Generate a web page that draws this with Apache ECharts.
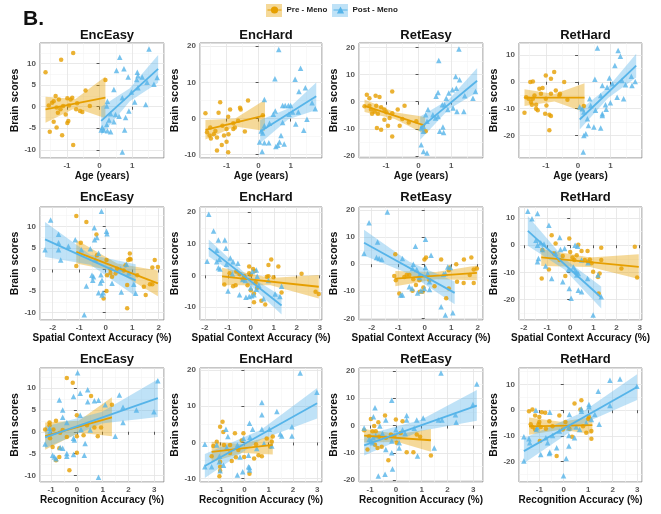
<!DOCTYPE html>
<html>
<head>
<meta charset="utf-8">
<script src="https://cdn.jsdelivr.net/npm/echarts@6/dist/echarts.min.js"></script>
<style>
  html, body { margin: 0; background: #fff; }
  #chart { width: 661px; height: 514px; }
</style>
</head>
<body>
<div id="chart"></div>
<script>
const conditions = ['EncEasy', 'EncHard', 'RetEasy', 'RetHard'];
const predictors = ['Age (years)', 'Spatial Context Accuracy (%)', 'Recognition Accuracy (%)'];
const groups = ['Pre - Meno', 'Post - Meno'];

// ---- row 1 : age ----
const ageEncEasyPre = [[-1.66,8.0],[-0.81,12.5],[-1.18,10.9],[-1.53,-5.8],[-1.15,-6.6],[-0.81,-8.9],[-1.41,-3.5],[-1.32,-4.8],[-0.99,-3.8],[-0.96,-3.3],[-1.04,-1.8],[-1.56,0.3],[-1.46,0.9],[-1.41,1.3],[-1.35,2.5],[-1.25,1.7],[-1.2,-0.6],[-1.28,-1.4],[-1.12,0.2],[-0.99,2.0],[-0.89,1.7],[-0.84,2.1],[-0.69,0.8],[-0.6,-1.0],[-0.53,-1.2],[-0.72,-0.6],[-0.43,3.8],[-0.3,0.2],[0.18,6.2],[-0.94,0.3],[-1.32,-0.2]];
const ageEncEasyPost = [[1.52,13.4],[0.62,11.5],[0.52,8.4],[0.75,8.8],[0.88,6.9],[1.16,8.0],[1.18,7.2],[1.14,6.3],[1.46,5.7],[1.31,6.9],[1.77,6.8],[1.67,5.2],[0.44,4.0],[0.98,3.4],[1.18,4.4],[0.7,2.1],[1.08,1.1],[1.42,0.5],[0.24,1.3],[0.22,0.2],[0.34,-1.6],[0.49,-1.8],[0.6,-2.2],[0.8,-2.5],[0.29,-3.1],[0.22,-4.1],[0.08,-4.8],[0.05,-5.4],[0.13,-5.4],[0.24,-5.6],[0.34,-5.8],[0.77,-5.4],[0.7,-10.5],[0.44,-3.5],[0.9,-1.0]];
const ageEncHardPre = [[-1.66,1.5],[-1.61,-3.8],[-1.53,-4.7],[-1.49,-5.5],[-1.4,-4.3],[-1.35,-3.4],[-1.3,-5.2],[-1.2,4.5],[-1.25,1.6],[-1.3,-8.8],[-1.15,-7.3],[-1.08,-4.7],[-1.0,-2.9],[-0.95,0.5],[-0.89,2.5],[-1.0,-6.4],[-0.95,-9.3],[-0.94,-4.3],[-0.79,-2.9],[-0.74,-2.5],[-0.58,3.0],[-0.56,2.5],[-0.64,-0.6],[-0.43,-3.6],[-0.33,5.0],[0.13,0.9],[-1.13,-2.0],[-1.51,-2.5],[-0.79,-1.3]];
const ageEncHardPost = [[0.63,19.1],[0.51,11.0],[1.31,13.9],[1.14,10.9],[1.46,8.5],[1.26,7.5],[0.18,5.3],[0.75,3.6],[0.83,3.6],[0.93,3.6],[1.0,3.6],[0.52,2.1],[0.46,1.2],[0.95,1.2],[1.06,1.8],[1.24,1.8],[1.67,4.4],[1.77,2.7],[1.51,-0.2],[0.75,-1.1],[1.16,-1.5],[0.34,-1.3],[0.18,-2.0],[0.08,-3.4],[0.13,-4.0],[0.03,-6.5],[0.18,-6.7],[0.32,-6.7],[0.11,-9.1],[0.54,-7.7],[0.65,-6.5],[0.7,-4.7],[0.8,-7.0],[1.41,-3.2],[0.6,-7.4]];
const ageRetEasyPre = [[-1.66,-1.7],[-1.59,2.6],[-1.51,1.3],[-1.32,2.2],[-1.2,1.7],[-1.46,-2.9],[-1.43,-4.4],[-1.35,-3.6],[-1.25,-4.4],[-1.3,-1.5],[-1.15,-2.0],[-1.05,-2.9],[-0.99,-3.9],[-1.28,-9.7],[-1.15,-10.3],[-0.94,-8.8],[-1.05,-6.6],[-0.81,-4.2],[-0.81,3.8],[-0.81,-12.8],[-0.64,-2.9],[-0.58,-8.8],[-0.5,-6.4],[-0.43,-1.5],[-0.3,-7.6],[-0.07,-7.2],[0.22,-10.9],[-0.89,-6.0],[-1.51,-1.5]];
const ageRetEasyPost = [[1.24,19.4],[0.62,15.2],[1.14,9.3],[1.26,8.1],[1.75,3.8],[1.67,1.3],[1.42,2.2],[0.85,1.3],[0.93,3.2],[0.54,2.0],[0.6,3.4],[1.04,4.4],[1.16,5.0],[0.8,-1.1],[0.9,-2.9],[1.06,-2.3],[1.18,-3.6],[1.39,-3.6],[0.73,-1.1],[0.29,-2.9],[0.44,-4.8],[0.22,-4.8],[0.26,-7.2],[0.52,-6.0],[0.6,-5.4],[0.75,-9.3],[0.65,-10.9],[0.08,-9.7],[0.15,-9.1],[0.08,-15.8],[0.15,-18.3],[0.26,-18.9],[0.77,-11.3],[0.15,-10.9]];
const ageRetHardPre = [[-1.66,-11.5],[-1.61,-5.7],[-1.53,-6.3],[-1.46,-7.5],[-1.4,-6.3],[-1.35,-5.1],[-1.3,-8.5],[-1.3,-10.0],[-1.25,-10.6],[-1.43,-8.5],[-1.48,-0.1],[-1.4,0.1],[-1.2,-2.6],[-1.1,-2.3],[-1.15,-4.4],[-1.0,2.3],[-1.0,-6.3],[-0.98,-8.8],[-1.02,-11.9],[-0.89,-12.2],[-0.84,-12.7],[-0.89,-18.0],[-0.84,1.1],[-0.74,3.6],[-0.69,-3.2],[-0.58,-5.1],[-0.56,-4.4],[-0.43,-0.1],[-0.33,-6.7],[-0.84,-4.4],[0.18,-9.0]];
const ageRetHardPost = [[0.6,12.5],[1.24,11.6],[1.31,9.5],[1.14,6.0],[0.97,1.4],[1.36,0.5],[1.65,2.1],[1.77,0.1],[1.67,-1.4],[1.47,-1.1],[0.52,0.9],[0.75,-1.4],[0.9,-2.0],[1.06,-0.7],[1.21,-5.7],[1.41,-6.3],[0.7,-5.1],[0.85,-8.5],[1.0,-7.8],[0.36,-6.3],[0.39,-8.8],[0.54,-10.6],[0.75,-11.9],[0.87,-10.2],[0.05,-9.4],[0.13,-10.0],[0.18,-11.2],[0.32,-16.2],[0.49,-16.8],[0.7,-17.2],[0.24,-19.3],[0.18,-19.9],[0.16,-26.1],[0.29,-13.7],[0.75,-12.5]];

// ---- row 2 : spatial context accuracy ----
const spatialEncEasyPre = [[-1.11,12.4],[-0.73,11.0],[-0.35,8.1],[-0.94,6.2],[-1.11,0.8],[-0.33,3.3],[0.18,0.0],[0.05,-1.3],[0.18,-0.8],[0.03,2.2],[0.24,-1.7],[0.43,0.2],[0.37,-0.9],[-0.08,-6.7],[0.03,-5.0],[0.81,-9.0],[0.75,1.0],[0.85,2.2],[0.94,2.3],[0.91,3.7],[0.91,2.5],[0.68,-0.2],[1.19,-1.3],[1.44,-4.0],[1.51,-5.9],[1.67,-3.4],[1.76,-3.4],[1.85,2.2],[1.76,0.5],[1.97,0.6],[0.81,-3.6]];
const spatialEncEasyPost = [[-2.29,4.6],[-2.08,11.5],[-1.78,8.2],[-1.78,6.2],[-1.78,4.6],[-1.7,2.2],[-1.41,5.4],[-1.15,6.9],[-0.92,4.6],[-0.58,4.8],[-0.42,6.9],[-0.43,9.7],[-0.33,7.4],[-0.16,13.5],[0.03,8.9],[0.05,8.3],[-0.27,3.8],[-0.39,2.3],[-0.52,-1.3],[-0.46,-1.7],[-0.49,-2.5],[-0.18,-1.2],[-0.14,-2.5],[-0.2,-3.1],[-0.27,-5.4],[-0.14,-5.9],[-0.1,-5.4],[-0.73,-3.8],[-0.81,-10.5],[0.24,-3.2],[0.59,-5.2],[0.78,1.2],[0.87,-0.8],[1.06,-3.4],[1.13,-5.5],[0.56,0.2]];
const spatialEncHardPre = [[-1.15,-2.9],[-0.92,0.7],[-0.77,-3.4],[-0.66,-3.1],[-0.63,1.2],[-0.49,0.4],[-0.28,-0.3],[-0.07,2.8],[0.0,0.2],[0.1,2.0],[0.18,1.4],[-0.07,0.7],[-0.35,-1.3],[-0.14,-3.1],[0.0,-4.7],[0.14,-5.7],[0.14,-8.5],[0.21,-2.3],[0.28,-3.9],[0.63,-9.2],[0.7,-0.4],[0.77,-0.3],[0.89,5.0],[0.77,3.3],[0.99,-0.6],[1.2,2.8],[1.34,-5.4],[2.21,0.5],[2.82,-5.2],[2.96,-5.9],[0.46,-8.0]];
const spatialEncHardPost = [[-1.83,19.3],[-1.62,14.0],[-1.41,11.2],[-1.13,11.2],[-1.08,8.6],[-1.48,7.9],[-1.9,4.5],[-1.48,4.3],[-1.37,5.1],[-1.06,3.5],[-0.89,5.5],[-0.77,4.3],[-0.56,3.8],[-0.8,0.4],[-1.34,2.0],[-1.41,2.4],[-0.99,-4.9],[-0.49,-6.1],[-0.35,-1.3],[-0.24,-1.6],[-0.21,-6.9],[-0.07,-6.7],[0.04,-6.4],[0.14,-6.1],[0.0,-3.9],[0.07,1.2],[0.24,1.7],[0.28,-0.3],[0.35,-3.1],[0.56,-7.4],[0.77,-1.6],[1.06,-5.9],[1.27,-6.7],[1.34,-3.4],[0.24,-4.4]];
const spatialRetEasyPre = [[-1.11,3.7],[-1.15,-4.4],[-1.09,-5.9],[-0.96,-10.8],[-0.77,-4.7],[-0.68,-4.0],[-0.58,-4.0],[-0.43,-5.6],[-0.33,-7.7],[-0.46,-9.8],[-0.2,-5.9],[-0.01,1.7],[0.05,2.5],[-0.05,-8.6],[-0.18,-10.2],[-0.08,-10.2],[0.18,-5.9],[0.37,-8.1],[0.62,1.7],[0.81,-12.6],[0.91,-2.2],[0.94,-1.2],[0.91,-9.0],[1.19,0.0],[1.22,-6.5],[1.48,1.7],[1.47,-6.9],[1.7,-4.0],[1.76,2.5],[1.85,-2.0],[1.85,-6.9],[1.97,-1.6]];
const spatialRetEasyPost = [[-2.29,3.9],[-2.1,15.3],[-1.78,8.2],[-1.82,2.5],[-1.72,2.1],[-1.62,1.7],[-1.41,19.3],[-0.84,2.1],[-0.9,-11.4],[-0.84,-11.4],[-0.35,6.6],[-0.43,0.0],[-0.46,-1.6],[-0.3,-2.0],[-0.2,-4.0],[-0.58,-8.3],[-0.48,-9.0],[-0.27,-10.6],[-0.14,-9.8],[-0.01,-9.0],[0.03,9.2],[0.03,-1.2],[0.11,-3.4],[0.24,3.3],[0.18,-9.3],[0.78,-3.4],[0.71,-3.7],[0.87,-1.0],[0.97,-1.2],[0.62,-15.7],[0.78,-18.8],[1.06,-17.9],[-0.2,-4.9],[0.18,-6.5]];
const spatialRetHardPre = [[-1.2,-1.8],[-1.23,-12.3],[-0.92,-9.0],[-0.8,3.7],[-0.7,-3.1],[-0.46,-5.5],[-0.32,-4.0],[-0.21,-11.4],[-0.04,2.5],[0.1,-4.5],[0.18,-5.5],[0.35,0.2],[0.49,-2.1],[0.63,-5.5],[0.75,-2.1],[0.77,-6.1],[0.85,-5.3],[0.92,-6.7],[0.99,-9.8],[1.2,-11.7],[1.27,-10.4],[1.34,-0.9],[1.34,-5.5],[1.23,-17.8],[2.21,-8.6],[2.79,-0.6],[2.89,-11.9],[-0.63,0.6],[0.28,-3.7],[0.0,-2.5]];
const spatialRetHardPost = [[-1.83,12.5],[-1.65,9.8],[-1.41,11.7],[-0.92,7.4],[-1.48,1.8],[-1.41,0.0],[-1.27,0.9],[-1.13,0.4],[-1.2,-1.6],[-1.37,-4.9],[-1.41,-6.1],[-1.06,-7.7],[-0.8,-12.3],[-0.45,2.8],[-0.24,-1.2],[-0.42,-1.6],[-0.32,-13.5],[-0.07,-9.0],[-0.04,-16.0],[0.04,-19.6],[0.14,-8.0],[0.21,-9.2],[0.28,-9.8],[0.28,-11.0],[0.35,-10.4],[0.21,0.0],[0.32,-0.4],[0.49,-5.5],[0.35,-16.6],[0.49,-17.2],[0.77,-6.5],[0.75,-12.3],[0.99,-25.8],[1.2,-11.0],[1.34,-19.0],[-0.63,-3.1]];

// ---- row 3 : recognition accuracy ----
const recogEncEasyPre = [[-1.23,0.5],[-1.06,2.1],[-1.06,1.5],[-1.04,-1.5],[-0.94,-3.5],[-0.91,0.5],[-0.81,2.5],[-0.81,-6.5],[-0.68,-5.8],[-0.68,-3.8],[-0.65,-0.2],[-0.55,0.4],[-0.39,12.3],[-0.39,-1.2],[-0.29,-8.8],[-0.16,11.2],[0.0,3.8],[0.0,-1.0],[0.0,-4.8],[0.26,-0.8],[0.55,8.2],[0.68,1.0],[0.81,-1.0],[0.94,1.0],[1.36,6.2],[0.39,1.5]];
const recogEncEasyPost = [[-1.23,-2.8],[-1.06,0.8],[-1.04,0.0],[-0.94,-5.4],[-0.87,-5.8],[-0.81,-6.2],[-0.68,7.3],[-0.55,5.0],[-0.55,3.3],[-0.65,-3.6],[-0.55,-3.8],[-0.39,2.1],[-0.39,-5.0],[-0.39,-5.6],[-0.13,-1.5],[-0.1,-1.9],[-0.13,-5.2],[-0.13,8.1],[0.03,13.5],[0.13,8.8],[0.13,3.8],[0.16,0.5],[0.29,-5.4],[0.32,-2.7],[0.42,9.6],[0.42,6.9],[0.52,0.4],[0.68,7.1],[0.84,7.2],[0.84,-10.4],[1.1,6.2],[1.49,-1.0],[1.65,8.4],[1.79,5.6],[1.79,2.1],[2.31,5.0],[2.99,4.6],[3.14,11.7]];
const recogEncHardPre = [[-1.35,-3.8],[-1.28,-1.0],[-1.14,0.2],[-1.0,4.3],[-1.0,-5.3],[-1.0,-6.7],[-1.03,-9.3],[-1.0,-7.8],[-0.9,5.7],[-0.87,2.9],[-0.84,-0.7],[-0.59,-0.7],[-0.59,-2.9],[-0.52,-5.1],[-0.39,2.5],[-0.35,-4.1],[-0.25,-2.1],[-0.11,0.5],[-0.04,2.5],[-0.01,-4.0],[0.21,-8.6],[0.4,-4.4],[0.58,-3.5],[0.72,-3.8],[0.92,1.1],[1.17,1.6],[1.13,0.2],[1.06,-1.2],[0.48,-0.5]];
const recogEncHardPost = [[-1.63,-0.5],[-1.63,-6.7],[-1.35,-6.7],[-1.14,-0.7],[-1.03,-3.8],[-1.03,-5.3],[-1.0,-7.8],[-0.86,-6.3],[-0.76,3.6],[-0.73,-1.4],[-0.68,1.6],[-0.29,-9.0],[-0.29,-0.7],[-0.18,-4.0],[-0.07,-8.1],[-0.04,1.1],[0.17,-3.5],[0.21,5.3],[0.17,-6.7],[0.21,-6.9],[0.21,-7.6],[0.23,1.4],[0.34,3.6],[0.51,-1.7],[0.72,11.0],[0.72,7.6],[0.72,3.6],[0.81,-0.3],[1.03,3.6],[1.34,8.5],[1.48,2.3],[1.54,1.8],[1.96,1.8],[1.96,4.3],[2.3,19.1],[2.99,13.8],[1.13,-1.0]];
const recogRetEasyPre = [[-1.23,-1.7],[-1.1,-8.8],[-1.04,-3.9],[-0.97,2.4],[-0.91,-2.1],[-0.84,-0.2],[-0.78,-2.1],[-0.81,-7.0],[-0.71,-8.2],[-0.68,1.2],[-0.65,-4.1],[-0.55,-7.8],[-0.42,3.7],[-0.39,-4.5],[-0.29,-12.7],[-0.19,-3.3],[0.0,2.2],[0.03,-6.3],[0.26,1.6],[0.42,-9.8],[0.68,-9.8],[0.81,-3.3],[0.94,-4.1],[1.36,-11.0],[-0.06,-3.7],[0.19,-2.7]];
const recogRetEasyPost = [[-1.23,-0.9],[-1.04,-5.1],[-0.97,-5.7],[-0.91,-6.3],[-0.87,3.2],[-0.81,6.5],[-0.78,-3.7],[-0.68,-18.5],[-0.62,-0.2],[-0.52,-2.9],[-0.42,-17.9],[-0.39,-8.8],[-0.39,2.0],[-0.16,9.3],[-0.16,-10.0],[-0.13,-15.9],[-0.16,-5.7],[0.0,-1.5],[0.13,-6.3],[0.13,-8.2],[0.26,-1.5],[0.36,-2.9],[0.42,3.7],[0.42,2.0],[0.71,-1.0],[0.81,2.0],[0.84,-11.2],[1.06,2.8],[1.49,-8.2],[1.65,2.0],[1.75,19.3],[1.79,2.0],[2.31,4.0],[2.34,1.2],[2.99,7.7],[3.14,15.2],[-0.88,-4.5]];
const recogRetHardPre = [[-1.42,-0.4],[-1.28,0.3],[-1.17,-2.1],[-1.0,-2.6],[-0.9,-0.8],[-0.76,-1.0],[-1.35,-5.5],[-1.28,-6.5],[-1.17,-7.5],[-1.03,-5.5],[-1.0,-4.6],[-0.94,-6.5],[-0.98,-12.0],[-0.73,-7.2],[-0.59,-4.3],[-0.46,-6.2],[-0.29,-17.8],[-0.18,-2.1],[-0.04,-7.5],[0.07,-4.6],[0.23,-7.2],[0.34,-10.3],[0.44,2.6],[0.72,3.9],[0.68,0.3],[0.79,-6.2],[0.92,-8.8],[1.0,-3.4],[1.13,-8.1],[1.13,-11.1],[1.03,-2.6]];
const recogRetHardPost = [[-1.63,-10.3],[-1.63,-19.7],[-1.42,-11.1],[-1.39,-12.6],[-1.14,0.0],[-1.12,-7.5],[-1.08,-6.8],[-0.94,-17.2],[-0.73,-10.7],[-0.66,-12.6],[-0.59,-16.8],[-0.57,-0.8],[-0.57,-16.3],[-0.46,-9.8],[-0.29,-14.6],[-0.18,-8.1],[-0.01,-25.5],[0.1,-18.8],[0.21,-9.8],[0.21,-6.8],[0.23,-1.7],[0.21,-13.9],[0.44,-10.7],[0.51,-6.5],[0.72,0.5],[0.72,-0.4],[0.92,-4.9],[1.03,2.2],[1.03,1.3],[1.13,-3.6],[1.27,-1.7],[1.45,-5.5],[1.41,7.4],[1.89,11.6],[1.89,1.8],[2.3,12.1],[2.99,9.3],[0.65,-7.5]];

// fitted lines (ends) and confidence bands [x, lower, upper], panel order row by row
const preLines = [
  [[-1.66,-0.6],[0.18,2.1]], [[-1.66,-3.1],[0.2,0.9]], [[-1.66,-1.5],[0.2,-8.8]], [[-1.66,-5.9],[0.2,-5.9]],
  [[-1.11,4.1],[1.97,-3.2]], [[-1.25,-0.3],[2.96,-3.6]], [[-1.11,-5.3],[1.97,-3.2]], [[-1.25,-4.5],[2.96,-8.0]],
  [[-1.23,-1.0],[1.36,3.3]], [[-1.35,-2.6],[1.17,-0.7]], [[-1.23,-3.7],[1.36,-5.4]], [[-1.42,-6.3],[1.17,-5.8]]
];
const postLines = [
  [[0.05,-3.3],[1.8,8.8]], [[0.05,-3.6],[1.8,6.2]], [[0.05,-9.7],[1.8,7.7]], [[0.05,-14.0],[1.8,6.0]],
  [[-2.29,7.0],[1.13,-2.5]], [[-1.83,8.6],[1.34,-9.5]], [[-2.29,7.9],[1.13,-10.6]], [[-1.83,5.3],[1.34,-19.3]],
  [[-1.23,-1.3],[3.14,7.7]], [[-1.63,-6.5],[3.0,10.8]], [[-1.23,-7.3],[3.14,7.3]], [[-1.63,-15.9],[3.0,9.0]]
];
const preBands = [
  [[-1.66,-3.7,2.3],[-0.74,-0.3,1.8],[0.18,-2.7,7.0]],
  [[-1.66,-5.8,-0.4],[-0.73,-2.2,0.0],[0.2,-3.4,5.2]],
  [[-1.66,-3.8,0.8],[-0.73,-6.4,-3.9],[0.2,-12.0,-5.6]],
  [[-1.66,-9.0,-2.8],[-0.73,-7.3,-4.5],[0.2,-11.3,-0.5]],
  [[-1.11,1.4,6.9],[0.43,-0.5,1.4],[1.97,-6.2,-0.2]],
  [[-1.25,-3.1,2.4],[0.86,-3.1,-0.8],[2.96,-7.3,0.1]],
  [[-1.11,-8.1,-2.5],[0.43,-5.6,-2.9],[1.97,-5.9,-0.5]],
  [[-1.25,-7.7,-1.4],[0.86,-8.0,-4.5],[2.96,-12.5,-3.3]],
  [[-1.23,-4.1,2.1],[0.07,-0.2,2.5],[1.36,-1.0,7.9]],
  [[-1.35,-5.4,0.2],[-0.09,-2.9,-0.4],[1.17,-3.3,1.9]],
  [[-1.23,-6.2,-1.3],[0.07,-6.0,-3.1],[1.36,-9.6,-1.3]],
  [[-1.42,-9.5,-2.8],[-0.13,-7.6,-4.5],[1.17,-9.2,-2.6]]
];
const postBands = [
  [[0.05,-6.6,0.0],[0.93,1.3,4.3],[1.8,5.6,12.0]],
  [[0.05,-6.8,-0.4],[0.93,-0.2,2.8],[1.8,2.4,10.0]],
  [[0.05,-14.0,-5.4],[0.93,-2.8,0.8],[1.8,3.5,12.4]],
  [[0.05,-17.7,-10.5],[0.93,-6.0,-2.0],[1.8,1.6,10.4]],
  [[-2.29,2.9,11.0],[-0.58,1.1,3.4],[1.13,-6.2,1.2]],
  [[-1.83,6.0,11.3],[-0.25,-1.6,0.7],[1.34,-12.4,-6.6]],
  [[-2.29,3.2,12.7],[-0.58,-3.6,0.9],[1.13,-14.8,-6.4]],
  [[-1.83,-0.2,10.8],[-0.25,-9.0,-5.0],[1.34,-23.4,-15.2]],
  [[-1.23,-3.8,1.2],[0.96,1.9,4.5],[3.14,3.4,12.0]],
  [[-1.63,-9.8,-3.2],[0.69,0.8,3.5],[3.0,6.6,15.0]],
  [[-1.23,-11.0,-3.6],[0.96,-2.0,2.0],[3.14,1.8,13.0]],
  [[-1.63,-20.6,-10.9],[0.69,-5.7,-1.2],[3.0,4.0,14.0]]
];

const preData = [ageEncEasyPre, ageEncHardPre, ageRetEasyPre, ageRetHardPre,
  spatialEncEasyPre, spatialEncHardPre, spatialRetEasyPre, spatialRetHardPre,
  recogEncEasyPre, recogEncHardPre, recogRetEasyPre, recogRetHardPre];
const postData = [ageEncEasyPost, ageEncHardPost, ageRetEasyPost, ageRetHardPost,
  spatialEncEasyPost, spatialEncHardPost, spatialRetEasyPost, spatialRetHardPost,
  recogEncEasyPost, recogEncHardPost, recogRetEasyPost, recogRetHardPost];

// axis extents [min, max, step]
const xScales = [
  [-1.83,1.98,1],[-1.83,1.98,1],[-1.83,1.98,1],[-1.83,1.98,1],
  [-2.48,2.2,1],[-2.21,3.1,1],[-2.48,2.2,1],[-2.21,3.1,1],
  [-1.43,3.38,1],[-1.83,3.2,1],[-1.43,3.38,1],[-1.83,3.2,1]
];
const yScales = [
  [-11.9,14.8,5],[-10.9,20.9,10],[-20.7,21.6,10],[-28.3,14.4,10],
  [-11.7,14.5,5],[-14.1,21.6,10],[-20.6,21.1,10],[-27.6,14.1,10],
  [-11.5,14.6,5],[-10.9,20.5,10],[-20.7,21.1,10],[-27.9,16.4,10]
];

const ORANGE = '#E69F00';
const BLUE = '#56B4E9';
const FONT = '"Liberation Sans", Arial, sans-serif';

const colLeft = [40, 200, 359, 519];
const colWidth = [124, 122, 124, 123];
const rowTop = [43, 207, 368];
const rowHeight = [115, 113, 114];
const titleTop = [24, 186, 348];

const chart = echarts.init(document.getElementById('chart'));

const bandSeries = (band, fill, i) => ({
  type: 'custom',
  xAxisIndex: i,
  yAxisIndex: i,
  silent: true,
  data: band,
  encode: { x: 0, y: [1, 2] },
  renderItem: (params, api) => {
    if (params.dataIndex !== 0) return;
    const upper = band.map(d => api.coord([d[0], d[2]]));
    const lower = band.map(d => api.coord([d[0], d[1]])).reverse();
    return { type: 'polygon', shape: { points: upper.concat(lower) }, style: { fill } };
  }
});

const grids = [], xAxes = [], yAxes = [], titles = [], series = [];

titles.push({ text: 'B.', left: 18, top: 4, textStyle: { fontSize: 21, fontWeight: 'bold', color: '#111', fontFamily: FONT } });

for (let r = 0; r < 3; r++) {
  for (let c = 0; c < 4; c++) {
    const i = r * 4 + c;
    grids.push({
      left: colLeft[c], top: rowTop[r], width: colWidth[c], height: rowHeight[r],
      show: true, borderColor: '#8c8c8c', borderWidth: 1, backgroundColor: '#fff'
    });
    titles.push({
      text: conditions[c],
      left: colLeft[c] + colWidth[c] / 2,
      top: titleTop[r],
      textAlign: 'center',
      textStyle: { fontSize: 13, fontWeight: 'bold', color: '#111', fontFamily: FONT }
    });
    const axisCommon = {
      type: 'value',
      gridIndex: i,
      axisLine: { show: false },
      axisTick: { show: true, length: 3, lineStyle: { color: '#555' } },
      axisLabel: { color: '#555', fontSize: 8, fontWeight: 'bold', fontFamily: FONT, margin: 4, showMinLabel: false, showMaxLabel: false },
      splitLine: { show: true, lineStyle: { color: '#e3e3e3', width: 0.8 } },
      minorTick: { show: false, splitNumber: 2 },
      minorSplitLine: { show: true, lineStyle: { color: '#f3f3f3', width: 0.6 } },
      nameLocation: 'middle',
      nameTextStyle: { fontSize: 10, fontWeight: 'bold', color: '#111', fontFamily: FONT }
    };
    xAxes.push(Object.assign({}, axisCommon, {
      min: xScales[i][0], max: xScales[i][1],
      minInterval: xScales[i][2], maxInterval: xScales[i][2],
      name: predictors[r], nameGap: 13
    }));
    yAxes.push(Object.assign({}, axisCommon, {
      min: yScales[i][0], max: yScales[i][1],
      minInterval: yScales[i][2], maxInterval: yScales[i][2],
      name: 'Brain scores', nameGap: 16,
      nameTextStyle: { fontSize: 10.5, fontWeight: 'bold', color: '#111', fontFamily: FONT }
    }));

    series.push({
      type: 'scatter', name: 'prePts', xAxisIndex: i, yAxisIndex: i, silent: true,
      symbol: 'circle', symbolSize: 4.5, itemStyle: { color: ORANGE }, data: preData[i]
    });
    series.push({
      type: 'scatter', name: 'postPts', xAxisIndex: i, yAxisIndex: i, silent: true,
      symbol: 'triangle', symbolSize: 5.5, itemStyle: { color: BLUE }, data: postData[i]
    });
    series.push(bandSeries(preBands[i], 'rgba(230,159,0,0.4)', i));
    series.push({
      type: 'line', name: groups[0], xAxisIndex: i, yAxisIndex: i, silent: true,
      symbol: 'circle', symbolSize: 4, showSymbol: false,
      itemStyle: { color: ORANGE }, lineStyle: { color: ORANGE, width: 1.8 },
      data: preLines[i]
    });
    series.push(bandSeries(postBands[i], 'rgba(86,180,233,0.38)', i));
    series.push({
      type: 'line', name: groups[1], xAxisIndex: i, yAxisIndex: i, silent: true,
      symbol: 'triangle', symbolSize: 5, showSymbol: false,
      itemStyle: { color: BLUE }, lineStyle: { color: BLUE, width: 1.8 },
      data: postLines[i]
    });
  }
}

const legendText = { fontSize: 8, fontWeight: 'bold', color: '#222', fontFamily: FONT };

chart.setOption({
  animation: false,
  backgroundColor: '#fff',
  title: titles,
  graphic: [
    { type: 'rect', left: 266, top: 4, z: 0, shape: { width: 16, height: 13 }, style: { fill: 'rgba(230,159,0,0.4)' } },
    { type: 'rect', left: 332, top: 4, z: 0, shape: { width: 16, height: 13 }, style: { fill: 'rgba(86,180,233,0.38)' } }
  ],
  legend: [
    { data: [groups[0]], left: 267, top: 6, padding: 0, itemWidth: 14, itemHeight: 9, selectedMode: false,
      lineStyle: { width: 1 }, textStyle: legendText },
    { data: [groups[1]], left: 333, top: 6, padding: 0, itemWidth: 14, itemHeight: 9, selectedMode: false,
      lineStyle: { width: 1 }, textStyle: legendText }
  ],
  grid: grids,
  xAxis: xAxes,
  yAxis: yAxes,
  series: series
});

window.addEventListener('resize', () => chart.resize());
</script>
</body>
</html>
